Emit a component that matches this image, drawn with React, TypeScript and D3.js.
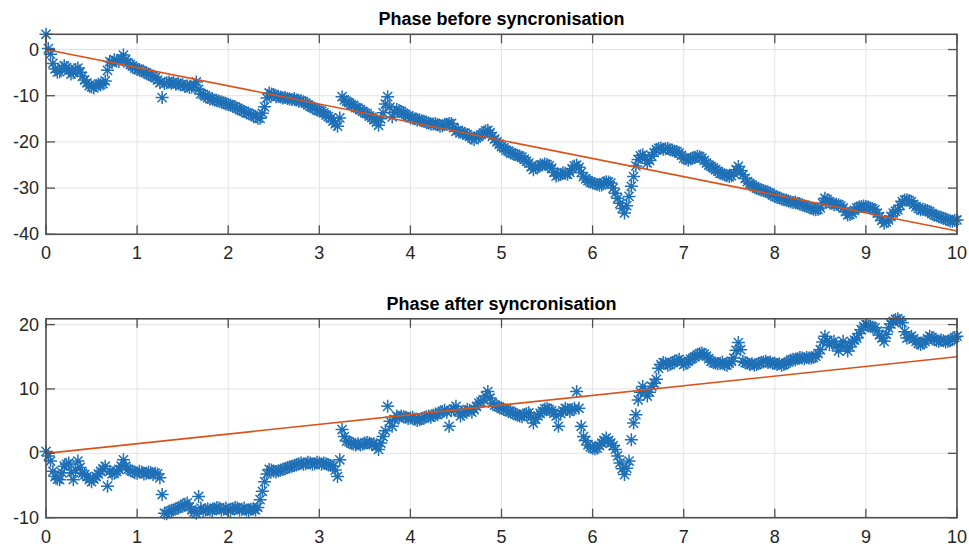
import React from "react";
import * as d3 from "d3";

// Phase samples [time (s), phase (deg)] before synchronisation
const beforeSamples: [number, number][] = [
  [0, 3.3], [0.025, 0.2], [0.05, -1.0], [0.075, -3.0], [0.1, -4.2], [0.125, -4.9], [0.15, -4.8], [0.175, -4.0],
  [0.2, -3.5], [0.225, -3.9], [0.25, -4.4], [0.275, -5.3], [0.3, -5.0], [0.325, -4.3], [0.35, -4.0], [0.375, -4.9],
  [0.4, -5.8], [0.425, -6.6], [0.45, -7.2], [0.475, -7.8], [0.5, -8.1], [0.525, -8.3], [0.55, -7.8], [0.575, -7.5],
  [0.6, -7.6], [0.625, -7.4], [0.65, -6.8], [0.675, -4.5], [0.7, -2.6], [0.725, -2.8], [0.75, -2.2], [0.775, -2.4],
  [0.8, -2.6], [0.825, -2.0], [0.85, -1.2], [0.875, -2.2], [0.9, -2.9], [0.925, -3.2], [0.95, -3.6], [0.975, -4.0],
  [1.0, -4.3], [1.025, -4.3], [1.05, -4.6], [1.075, -4.9], [1.1, -5.0], [1.125, -5.4], [1.15, -5.6], [1.175, -5.8],
  [1.2, -6.1], [1.225, -6.6], [1.25, -7.2], [1.275, -10.4], [1.3, -7.4], [1.325, -7.2], [1.35, -7.0], [1.375, -7.3],
  [1.4, -7.1], [1.425, -7.5], [1.45, -7.4], [1.475, -7.6], [1.5, -7.6], [1.525, -8.0], [1.55, -7.9], [1.575, -8.2],
  [1.6, -8.1], [1.625, -7.6], [1.65, -7.0], [1.675, -8.6], [1.7, -9.6], [1.725, -9.7], [1.75, -10.0], [1.775, -10.4],
  [1.8, -10.7], [1.825, -10.6], [1.85, -10.9], [1.875, -11.1], [1.9, -11.2], [1.925, -11.3], [1.95, -11.5], [1.975, -11.8],
  [2.0, -11.9], [2.025, -12.0], [2.05, -12.3], [2.075, -12.4], [2.1, -12.7], [2.125, -13.0], [2.15, -13.2], [2.175, -13.4],
  [2.2, -13.7], [2.225, -13.8], [2.25, -14.1], [2.275, -14.3], [2.3, -14.5], [2.325, -14.9], [2.35, -14.9], [2.375, -13.8],
  [2.4, -12.4], [2.425, -10.5], [2.45, -9.4], [2.475, -9.6], [2.5, -9.8], [2.525, -10.2], [2.55, -10.1], [2.575, -10.3],
  [2.6, -10.5], [2.625, -10.4], [2.65, -10.6], [2.675, -10.7], [2.7, -10.8], [2.725, -10.6], [2.75, -10.9], [2.775, -11.2],
  [2.8, -11.1], [2.825, -11.3], [2.85, -11.6], [2.875, -12.0], [2.9, -12.3], [2.925, -12.5], [2.95, -12.8], [2.975, -13.1],
  [3.0, -13.2], [3.025, -13.4], [3.05, -13.7], [3.075, -14.2], [3.1, -14.5], [3.125, -14.9], [3.15, -15.5], [3.175, -16.1],
  [3.2, -16.6], [3.225, -14.8], [3.25, -10.2], [3.275, -10.9], [3.3, -11.2], [3.325, -11.5], [3.35, -11.9], [3.375, -12.1],
  [3.4, -12.6], [3.425, -12.7], [3.45, -13.0], [3.475, -13.4], [3.5, -13.7], [3.525, -13.9], [3.55, -14.4], [3.575, -14.7],
  [3.6, -15.2], [3.625, -15.7], [3.65, -16.4], [3.675, -15.0], [3.7, -13.7], [3.725, -11.8], [3.75, -10.2], [3.775, -12.5],
  [3.8, -14.6], [3.825, -13.6], [3.85, -13.0], [3.875, -13.2], [3.9, -13.4], [3.925, -13.8], [3.95, -14.1], [3.975, -14.4],
  [4.0, -14.8], [4.025, -14.7], [4.05, -15.0], [4.075, -15.3], [4.1, -15.2], [4.125, -15.4], [4.15, -15.6], [4.175, -15.7],
  [4.2, -15.9], [4.225, -16.2], [4.25, -16.1], [4.275, -16.0], [4.3, -16.3], [4.325, -16.6], [4.35, -16.5], [4.375, -16.2],
  [4.4, -16.2], [4.425, -16.0], [4.45, -16.0], [4.475, -16.9], [4.5, -17.7], [4.525, -17.5], [4.55, -17.9], [4.575, -18.2],
  [4.6, -18.1], [4.625, -18.4], [4.65, -18.8], [4.675, -19.2], [4.7, -19.5], [4.725, -19.1], [4.75, -18.8], [4.775, -18.4],
  [4.8, -18.1], [4.825, -17.6], [4.85, -17.5], [4.875, -18.0], [4.9, -18.8], [4.925, -19.4], [4.95, -20.0], [4.975, -20.5],
  [5.0, -21.0], [5.025, -21.3], [5.05, -21.8], [5.075, -22.0], [5.1, -22.4], [5.125, -22.5], [5.15, -22.7], [5.175, -23.0],
  [5.2, -23.1], [5.225, -23.3], [5.25, -23.8], [5.275, -24.2], [5.3, -24.6], [5.325, -25.4], [5.35, -26.0], [5.375, -25.6],
  [5.4, -25.3], [5.425, -25.0], [5.45, -25.0], [5.475, -24.8], [5.5, -24.9], [5.525, -25.2], [5.55, -25.7], [5.575, -26.6],
  [5.6, -27.4], [5.625, -27.2], [5.65, -27.0], [5.675, -26.7], [5.7, -26.8], [5.725, -27.0], [5.75, -26.6], [5.775, -25.8],
  [5.8, -25.2], [5.825, -25.0], [5.85, -25.5], [5.875, -26.6], [5.9, -27.5], [5.925, -28.0], [5.95, -28.4], [5.975, -28.7],
  [6.0, -28.9], [6.025, -29.0], [6.05, -29.2], [6.075, -29.4], [6.1, -29.3], [6.125, -28.8], [6.15, -28.6], [6.175, -28.7],
  [6.2, -28.9], [6.225, -30.0], [6.25, -31.1], [6.275, -32.2], [6.3, -33.3], [6.325, -34.4], [6.35, -35.4], [6.375, -33.8],
  [6.4, -31.8], [6.425, -29.6], [6.45, -27.5], [6.475, -25.2], [6.5, -23.8], [6.525, -23.0], [6.55, -22.8], [6.575, -23.6],
  [6.6, -24.6], [6.625, -24.0], [6.65, -23.1], [6.675, -22.3], [6.7, -21.7], [6.725, -21.4], [6.75, -21.3], [6.775, -21.6],
  [6.8, -21.5], [6.825, -21.4], [6.85, -21.7], [6.875, -21.8], [6.9, -22.0], [6.925, -22.1], [6.95, -22.4], [6.975, -22.9],
  [7.0, -23.5], [7.025, -23.7], [7.05, -23.9], [7.075, -23.7], [7.1, -23.5], [7.125, -23.3], [7.15, -23.1], [7.175, -23.2],
  [7.2, -23.5], [7.225, -24.0], [7.25, -24.6], [7.275, -25.0], [7.3, -25.3], [7.325, -25.6], [7.35, -26.0], [7.375, -26.4],
  [7.4, -26.8], [7.425, -26.9], [7.45, -27.1], [7.475, -27.3], [7.5, -27.5], [7.525, -27.3], [7.55, -26.8], [7.575, -26.0],
  [7.6, -25.3], [7.625, -26.2], [7.65, -27.1], [7.675, -27.9], [7.7, -28.6], [7.725, -29.0], [7.75, -29.3], [7.775, -29.7],
  [7.8, -30.0], [7.825, -30.2], [7.85, -30.4], [7.875, -30.5], [7.9, -30.7], [7.925, -30.9], [7.95, -31.1], [7.975, -31.5],
  [8.0, -31.8], [8.025, -31.9], [8.05, -32.1], [8.075, -32.4], [8.1, -32.5], [8.125, -32.6], [8.15, -32.8], [8.175, -33.0],
  [8.2, -33.1], [8.225, -33.0], [8.25, -33.3], [8.275, -33.5], [8.3, -33.6], [8.325, -33.8], [8.35, -34.0], [8.375, -34.1],
  [8.4, -34.3], [8.425, -34.6], [8.45, -34.7], [8.475, -34.6], [8.5, -34.3], [8.525, -33.3], [8.55, -32.2], [8.575, -32.5],
  [8.6, -32.9], [8.625, -33.3], [8.65, -33.6], [8.675, -33.5], [8.7, -33.6], [8.725, -33.9], [8.75, -34.3], [8.775, -35.1],
  [8.8, -35.8], [8.825, -35.7], [8.85, -35.4], [8.875, -34.8], [8.9, -34.3], [8.925, -34.1], [8.95, -34.0], [8.975, -33.9],
  [9.0, -34.0], [9.025, -34.1], [9.05, -34.3], [9.075, -34.5], [9.1, -34.7], [9.125, -35.4], [9.15, -36.2], [9.175, -37.0],
  [9.2, -37.6], [9.225, -37.3], [9.25, -36.9], [9.275, -36.1], [9.3, -35.4], [9.325, -35.0], [9.35, -34.7], [9.375, -33.7],
  [9.4, -32.9], [9.425, -32.6], [9.45, -32.5], [9.475, -32.7], [9.5, -32.9], [9.525, -33.5], [9.55, -34.0], [9.575, -34.4],
  [9.6, -34.7], [9.625, -34.6], [9.65, -34.7], [9.675, -34.9], [9.7, -35.1], [9.725, -35.5], [9.75, -35.8], [9.775, -36.0],
  [9.8, -36.2], [9.825, -36.3], [9.85, -36.5], [9.875, -36.7], [9.9, -36.9], [9.925, -37.1], [9.95, -37.2], [9.975, -37.0],
  [10.0, -36.9],
];

// Phase samples [time (s), phase (deg)] after synchronisation
const afterSamples: [number, number][] = [
  [0, 0.3], [0.025, -0.4], [0.05, -1.2], [0.075, -2.8], [0.1, -3.6], [0.125, -4.0], [0.15, -4.1], [0.175, -3.0],
  [0.2, -2.0], [0.225, -1.7], [0.25, -1.5], [0.275, -3.0], [0.3, -4.1], [0.325, -2.6], [0.35, -1.2], [0.375, -2.2],
  [0.4, -3.1], [0.425, -3.3], [0.45, -3.6], [0.475, -4.1], [0.5, -4.4], [0.525, -4.0], [0.55, -3.6], [0.575, -3.2],
  [0.6, -2.8], [0.625, -2.4], [0.65, -2.0], [0.675, -5.1], [0.7, -2.8], [0.725, -3.2], [0.75, -3.1], [0.775, -2.8],
  [0.8, -2.5], [0.825, -2.0], [0.85, -1.0], [0.875, -2.0], [0.9, -2.5], [0.925, -2.6], [0.95, -2.8], [0.975, -3.0],
  [1.0, -3.1], [1.025, -2.8], [1.05, -2.9], [1.075, -3.2], [1.1, -3.1], [1.125, -2.9], [1.15, -3.0], [1.175, -3.3],
  [1.2, -3.1], [1.225, -3.2], [1.25, -3.8], [1.275, -6.4], [1.3, -9.3], [1.325, -9.4], [1.35, -9.0], [1.375, -8.9],
  [1.4, -8.8], [1.425, -8.6], [1.45, -8.5], [1.475, -8.3], [1.5, -8.2], [1.525, -7.9], [1.55, -7.7], [1.575, -8.3],
  [1.6, -8.8], [1.625, -9.1], [1.65, -9.3], [1.675, -6.7], [1.7, -8.5], [1.725, -9.0], [1.75, -8.8], [1.775, -8.6],
  [1.8, -8.8], [1.825, -8.9], [1.85, -8.6], [1.875, -8.4], [1.9, -8.5], [1.925, -8.8], [1.95, -8.7], [1.975, -8.5],
  [2.0, -8.8], [2.025, -8.9], [2.05, -8.6], [2.075, -8.4], [2.1, -8.5], [2.125, -8.8], [2.15, -8.7], [2.175, -8.5],
  [2.2, -8.8], [2.225, -8.9], [2.25, -8.7], [2.275, -8.6], [2.3, -8.8], [2.325, -8.4], [2.35, -7.2], [2.375, -5.9],
  [2.4, -4.4], [2.425, -3.2], [2.45, -2.5], [2.475, -2.6], [2.5, -2.8], [2.525, -2.9], [2.55, -2.7], [2.575, -2.6],
  [2.6, -2.5], [2.625, -2.4], [2.65, -2.2], [2.675, -2.1], [2.7, -2.0], [2.725, -1.9], [2.75, -1.8], [2.775, -1.6],
  [2.8, -1.5], [2.825, -1.7], [2.85, -1.6], [2.875, -1.4], [2.9, -1.5], [2.925, -1.7], [2.95, -1.6], [2.975, -1.4],
  [3.0, -1.5], [3.025, -1.7], [3.05, -1.5], [3.075, -1.6], [3.1, -1.8], [3.125, -1.9], [3.15, -2.0], [3.175, -2.6],
  [3.2, -3.6], [3.225, -1.0], [3.25, 3.7], [3.275, 2.6], [3.3, 1.9], [3.325, 1.8], [3.35, 1.6], [3.375, 1.4],
  [3.4, 1.3], [3.425, 1.5], [3.45, 1.3], [3.475, 1.4], [3.5, 1.6], [3.525, 1.7], [3.55, 1.6], [3.575, 1.4],
  [3.6, 1.5], [3.625, 1.1], [3.65, 0.6], [3.675, 1.6], [3.7, 2.6], [3.725, 3.5], [3.75, 7.3], [3.775, 5.0],
  [3.8, 4.2], [3.825, 5.2], [3.85, 5.8], [3.875, 5.6], [3.9, 5.8], [3.925, 5.7], [3.95, 5.6], [3.975, 5.4],
  [4.0, 5.5], [4.025, 5.6], [4.05, 5.3], [4.075, 5.1], [4.1, 5.2], [4.125, 5.4], [4.15, 5.5], [4.175, 5.7],
  [4.2, 5.8], [4.225, 5.6], [4.25, 5.9], [4.275, 6.1], [4.3, 6.0], [4.325, 6.3], [4.35, 6.5], [4.375, 6.7],
  [4.4, 6.4], [4.425, 4.2], [4.45, 6.6], [4.475, 6.9], [4.5, 7.3], [4.525, 6.5], [4.55, 5.8], [4.575, 6.1],
  [4.6, 6.5], [4.625, 6.8], [4.65, 6.7], [4.675, 6.4], [4.7, 6.8], [4.725, 7.3], [4.75, 7.8], [4.775, 8.0],
  [4.8, 8.3], [4.825, 8.9], [4.85, 9.6], [4.875, 8.6], [4.9, 7.8], [4.925, 7.5], [4.95, 7.3], [4.975, 7.2],
  [5.0, 7.0], [5.025, 6.8], [5.05, 6.7], [5.075, 6.5], [5.1, 6.5], [5.125, 6.3], [5.15, 6.1], [5.175, 5.9],
  [5.2, 5.8], [5.225, 5.7], [5.25, 6.0], [5.275, 6.2], [5.3, 6.3], [5.325, 5.6], [5.35, 4.7], [5.375, 5.3],
  [5.4, 5.8], [5.425, 6.2], [5.45, 6.5], [5.475, 6.9], [5.5, 7.0], [5.525, 6.8], [5.55, 6.6], [5.575, 6.2],
  [5.6, 5.8], [5.625, 4.2], [5.65, 6.2], [5.675, 6.6], [5.7, 7.0], [5.725, 6.8], [5.75, 6.5], [5.775, 6.8],
  [5.8, 7.0], [5.825, 9.6], [5.85, 7.0], [5.875, 4.2], [5.9, 2.6], [5.925, 2.0], [5.95, 1.3], [5.975, 1.0],
  [6.0, 0.8], [6.025, 0.7], [6.05, 0.8], [6.075, 1.2], [6.1, 1.6], [6.125, 2.0], [6.15, 2.4], [6.175, 2.0],
  [6.2, 1.6], [6.225, 1.2], [6.25, 0.6], [6.275, -0.4], [6.3, -1.5], [6.325, -2.4], [6.35, -3.3], [6.375, -2.3],
  [6.4, -1.2], [6.425, 2.1], [6.45, 4.7], [6.475, 6.0], [6.5, 8.3], [6.525, 9.5], [6.55, 10.4], [6.575, 9.6],
  [6.6, 8.9], [6.625, 9.5], [6.65, 10.4], [6.675, 10.9], [6.7, 11.5], [6.725, 13.2], [6.75, 13.8], [6.775, 14.1],
  [6.8, 14.0], [6.825, 13.7], [6.85, 13.8], [6.875, 14.1], [6.9, 14.3], [6.925, 14.4], [6.95, 14.6], [6.975, 14.2],
  [7.0, 13.8], [7.025, 14.0], [7.05, 14.3], [7.075, 14.6], [7.1, 14.8], [7.125, 15.0], [7.15, 15.3], [7.175, 15.5],
  [7.2, 15.6], [7.225, 15.4], [7.25, 15.1], [7.275, 14.7], [7.3, 14.3], [7.325, 14.1], [7.35, 14.0], [7.375, 13.9],
  [7.4, 14.0], [7.425, 14.2], [7.45, 13.8], [7.475, 13.7], [7.5, 14.0], [7.525, 14.3], [7.55, 14.8], [7.575, 16.0],
  [7.6, 17.2], [7.625, 16.1], [7.65, 14.3], [7.675, 14.1], [7.7, 14.0], [7.725, 13.8], [7.75, 13.9], [7.775, 13.7],
  [7.8, 13.8], [7.825, 14.0], [7.85, 14.1], [7.875, 14.2], [7.9, 14.3], [7.925, 14.1], [7.95, 14.2], [7.975, 14.0],
  [8.0, 14.0], [8.025, 13.8], [8.05, 13.9], [8.075, 13.7], [8.1, 13.8], [8.125, 14.0], [8.15, 14.2], [8.175, 14.5],
  [8.2, 14.6], [8.225, 14.5], [8.25, 14.7], [8.275, 14.9], [8.3, 14.8], [8.325, 14.7], [8.35, 14.9], [8.375, 14.8],
  [8.4, 14.8], [8.425, 14.9], [8.45, 15.1], [8.475, 15.5], [8.5, 16.1], [8.525, 17.3], [8.55, 18.2], [8.575, 17.5],
  [8.6, 16.9], [8.625, 17.2], [8.65, 17.4], [8.675, 16.6], [8.7, 15.9], [8.725, 16.7], [8.75, 17.4], [8.775, 16.6],
  [8.8, 15.9], [8.825, 16.5], [8.85, 17.2], [8.875, 17.6], [8.9, 17.9], [8.925, 18.6], [8.95, 19.2], [8.975, 19.7],
  [9.0, 20.0], [9.025, 19.8], [9.05, 19.7], [9.075, 19.6], [9.1, 19.5], [9.125, 19.0], [9.15, 18.4], [9.175, 17.9],
  [9.2, 17.4], [9.225, 18.5], [9.25, 19.5], [9.275, 20.1], [9.3, 20.5], [9.325, 20.8], [9.35, 20.9], [9.375, 20.6],
  [9.4, 20.3], [9.425, 18.9], [9.45, 17.9], [9.475, 18.0], [9.5, 18.2], [9.525, 17.8], [9.55, 17.4], [9.575, 17.1],
  [9.6, 16.9], [9.625, 17.1], [9.65, 17.4], [9.675, 17.8], [9.7, 18.2], [9.725, 18.0], [9.75, 17.7], [9.775, 17.5],
  [9.8, 17.4], [9.825, 17.6], [9.85, 17.5], [9.875, 17.3], [9.9, 17.4], [9.925, 17.5], [9.95, 17.7], [9.975, 18.0],
  [10.0, 18.2],
];

// Linear fits (endpoints at t = 0 and t = 10)
const fitT = [0, 10];
const beforeFit = [0, -39.3];
const afterFit = [0, 15];

const xTicks = [0, 1, 2, 3, 4, 5, 6, 7, 8, 9, 10];
const beforeYTicks = [-40, -30, -20, -10, 0];
const afterYTicks = [-10, 0, 10, 20];

const W = 969;
const H = 546;
const FONT = "'Liberation Sans', Arial, Helvetica, sans-serif";
const BLUE = "#1f70b6";
const ORANGE = "#d95319";
const AXIS = "#4f4f4f";
const GRID = "#e3e3e3";
const TEXT = "#262626";

type PanelProps = {
  title: string;
  samples: [number, number][];
  fit: number[];
  yMin: number;
  yTicks: number[];
  top: number;
  bottom: number;
};

const xScale = d3.scaleLinear().domain([0, 10]).range([46, 957]);

function starPath(r: number): string {
  const d = r * Math.SQRT1_2;
  return `M${-r},0H${r}M0,${-r}V${r}M${-d},${-d}L${d},${d}M${-d},${d}L${d},${-d}`;
}

function Panel({ title, samples, fit, yMin, yTicks, top, bottom }: PanelProps) {
  const yMax = d3.max(samples, (s) => s[1]) as number;
  const y = d3.scaleLinear().domain([yMin, yMax]).range([bottom, top]);
  const [x0, x1] = xScale.range();
  const tick = 9;
  const line = d3
    .line<number>()
    .x((_, i) => xScale(fitT[i]))
    .y((d) => y(d));
  const star = starPath(6.5);
  return (
    <g>
      {/* grid */}
      {xTicks.map((d) => (
        <line key={`gx${d}`} x1={xScale(d)} x2={xScale(d)} y1={top} y2={bottom} stroke={GRID} strokeWidth={1} />
      ))}
      {yTicks.map((d) => (
        <line key={`gy${d}`} x1={x0} x2={x1} y1={y(d)} y2={y(d)} stroke={GRID} strokeWidth={1} />
      ))}
      {/* markers */}
      <g stroke={BLUE} strokeWidth={1.5} fill="none">
        {samples.map(([tt, vv], i) => (
          <path key={i} d={star} transform={`translate(${xScale(tt)},${y(vv)})`} />
        ))}
      </g>
      {/* fitted line */}
      <path d={line(fit) || ""} fill="none" stroke={ORANGE} strokeWidth={1.6} />
      {/* box and ticks */}
      <rect x={x0} y={top} width={x1 - x0} height={bottom - top} fill="none" stroke={AXIS} strokeWidth={1.6} />
      {xTicks.map((d) => (
        <g key={`tx${d}`} stroke={AXIS} strokeWidth={1.3}>
          <line x1={xScale(d)} x2={xScale(d)} y1={bottom} y2={bottom - tick} />
          <line x1={xScale(d)} x2={xScale(d)} y1={top} y2={top + tick} />
        </g>
      ))}
      {yTicks.map((d) => (
        <g key={`ty${d}`} stroke={AXIS} strokeWidth={1.3}>
          <line x1={x0} x2={x0 + tick} y1={y(d)} y2={y(d)} />
          <line x1={x1} x2={x1 - tick} y1={y(d)} y2={y(d)} />
        </g>
      ))}
      {/* labels */}
      {xTicks.map((d) => (
        <text key={`lx${d}`} x={xScale(d)} y={bottom + 25} textAnchor="middle" fontSize={18} fill={TEXT} fontFamily={FONT}>
          {d}
        </text>
      ))}
      {yTicks.map((d) => (
        <text key={`ly${d}`} x={x0 - 7} y={y(d) + 6} textAnchor="end" fontSize={18} fill={TEXT} fontFamily={FONT}>
          {d}
        </text>
      ))}
      <text x={(x0 + x1) / 2} y={top - 9} textAnchor="middle" fontSize={18} fontWeight="bold" fill="#000" fontFamily={FONT}>
        {title}
      </text>
    </g>
  );
}

export default function App() {
  return (
    <svg width={W} height={H} style={{ position: "absolute", left: 0, top: 0, background: "#fff" }}>
      <rect width={W} height={H} fill="#fff" />
      <Panel
        title="Phase before syncronisation"
        samples={beforeSamples}
        fit={beforeFit}
        yMin={-40}
        yTicks={beforeYTicks}
        top={34.3}
        bottom={234.3}
      />
      <Panel
        title="Phase after syncronisation"
        samples={afterSamples}
        fit={afterFit}
        yMin={-10}
        yTicks={afterYTicks}
        top={318.8}
        bottom={517.7}
      />
    </svg>
  );
}
